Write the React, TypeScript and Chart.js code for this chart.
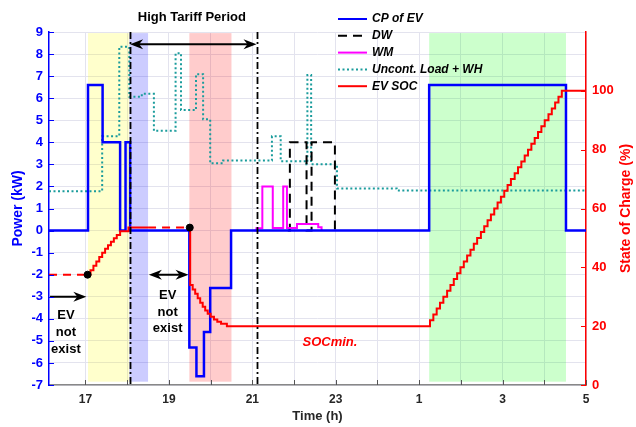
import { useEffect, useRef } from "react";
import { Chart, registerables } from "chart.js";
Chart.register(...registerables);

// ---------------- data ----------------
const xMin = 16.125;
const xMax = 29;
const xTicks = [17, 18, 19, 20, 21, 22, 23, 24, 25, 26, 27, 28, 29];
const xTickLabels = ["17", "", "19", "", "21", "", "23", "", "1", "", "3", "", "5"];
const powerMin = -7;
const powerMax = 9;
const socMin = 0;
const socMax = 120;
const socTickHidden = [120];

// CP of EV (kW), step changes
const cpTime = [16.125, 17.06, 17.41, 17.83, 17.96, 18.07, 19.49, 19.66, 19.84, 19.99, 20.49, 25.24, 28.52, 29];
const cpPower = [0, 6.6, 4.0, 0, 4.0, 0, -5.3, -6.6, -4.6, -2.6, 0, 6.6, 0, 0];

// DW (kW)
const dwTime = [21.85, 21.9, 22.3, 22.42, 22.98];
const dwPower = [0, 4.0, 0, 4.0, 0];

// WM (kW)
const wmTime = [21.05, 21.1, 21.24, 21.49, 21.74, 21.83, 22.07, 22.58, 22.66];
const wmPower = [0, 0.1, 2.0, 0.12, 2.0, 0.12, 0.3, 0.15, 0];

// Uncont. Load + WH (kW)
const ulTime = [16.125, 17.4, 17.81, 18.05, 18.35, 18.64, 19.16, 19.29, 19.65, 19.82, 19.99, 20.3, 21.47, 21.68, 22.26, 22.32, 22.41, 23.03, 24.46, 29];
const ulPower = [1.78, 4.27, 8.33, 6.06, 6.2, 4.52, 8.04, 5.46, 7.09, 5.04, 3.05, 3.17, 4.27, 3.14, 3.01, 7.05, 3.01, 1.91, 1.82, 1.82];

// EV SOC (%)
const socTime = [
  16.125, 17.05, 17.12, 17.19, 17.26, 17.33, 17.4, 17.47, 17.54, 17.61, 17.68, 17.75, 17.83, 18.03, 18.5, 19.5,
  19.51, 19.57, 19.63, 19.69, 19.75, 19.81, 19.87, 19.93, 20.0, 20.08, 20.16, 20.25, 20.39,
  25.26, 25.34, 25.42, 25.5, 25.58, 25.67, 25.75, 25.83, 25.91, 25.99, 26.07, 26.15, 26.23, 26.31, 26.39,
  26.48, 26.56, 26.64, 26.72, 26.8, 26.88, 26.96, 27.04, 27.12, 27.2, 27.29, 27.37, 27.45, 27.53, 27.61,
  27.69, 27.77, 27.85, 27.93, 28.01, 28.1, 28.18, 28.26, 28.34, 28.42, 29,
];
const socValue = [
  37.5, 37.5, 39.0, 40.5, 42.0, 43.5, 45.0, 46.3, 47.5, 48.7, 49.9, 51.0, 52.3, 53.5, 53.5, 53.5,
  34.0, 32.5, 31.0, 29.5, 28.0, 26.6, 25.3, 24.2, 23.2, 22.3, 21.5, 20.8, 20.0,
  22, 24, 26, 28, 30, 32, 34, 36, 38, 40, 42, 44, 46, 48, 50,
  52, 54, 56, 58, 60, 62, 64, 66, 68, 70, 72, 74, 76, 78, 80,
  82, 84, 86, 88, 90, 92, 94, 96, 98, 100, 100,
];
const socDashedFrom = [16.125, 18.5];
const socDashedTo = [17.05, 19.5];

// EV arrival / departure markers (SOC %)
const dotTime = [17.05, 19.5];
const dotSoc = [37.5, 53.5];

// shaded periods (time h, power kW)
const shadeStart = [17.06, 18.05, 19.49, 25.24];
const shadeEnd = [18.05, 18.5, 20.5, 28.52];
const shadeTop = 8.95;
const shadeBottom = -6.85;

// high tariff period
const tariffLines = [18.07, 21.1];
const tariffArrowY = 8.45;
const tariffLabel = "High Tariff Period";
const tariffLabelAt = [19.55, 9.68];

// "EV not exist" annotations
const evText = ["EV", "not", "exist"];
const ev1Arrow = [16.15, 17.02, -3];
const ev1TextX = 16.53;
const ev1TextY = [-3.85, -4.62, -5.38];
const ev2Arrow = [18.52, 19.47, -2];
const ev2TextX = 18.97;
const ev2TextY = [-2.94, -3.71, -4.43];
const socMinLabel = "SOCmin.";
const socMinAt = [22.86, -5.07];

const legendLabels = ["CP of EV", "DW", "WM", "Uncont. Load + WH", "EV SOC"];

// ---------------- styles ----------------
const FONT = "'Liberation Sans', Arial, Helvetica, sans-serif";
const BLUE = "#0000ff";
const RED = "#ff0000";
const MAGENTA = "#ff00ff";
const TEAL = "#1a9c9c";
const BLACK = "#000000";
const shadeColors = ["rgba(255,255,0,0.2)", "rgba(0,0,255,0.2)", "rgba(255,0,0,0.2)", "rgba(0,255,0,0.2)"];
const legendColors = [BLUE, BLACK, MAGENTA, TEAL, RED];
const legendDash = [[], [9, 6], [], [2, 2.5], []];

const pts = (ts: number[], vs: number[]) => ts.map((t, i) => ({ x: t, y: vs[i] }));

function arrowHead(ctx: CanvasRenderingContext2D, x: number, y: number, dir: number) {
  ctx.beginPath();
  ctx.moveTo(x, y);
  ctx.lineTo(x - dir * 13, y - 5);
  ctx.lineTo(x - dir * 9, y);
  ctx.lineTo(x - dir * 13, y + 5);
  ctx.closePath();
  ctx.fill();
}

export default function App() {
  const ref = useRef<HTMLCanvasElement>(null);

  useEffect(() => {
    if (!ref.current) return;
    Chart.defaults.font.family = FONT;

    const annot = {
      id: "annot",
      beforeDatasetsDraw(chart: any) {
        const { ctx, scales } = chart;
        const x = scales.x;
        const y = scales.y;
        ctx.save();
        for (let i = 0; i < shadeStart.length; i++) {
          const x0 = x.getPixelForValue(shadeStart[i]);
          const x1 = x.getPixelForValue(shadeEnd[i]);
          const y0 = y.getPixelForValue(shadeTop);
          const y1 = y.getPixelForValue(shadeBottom);
          ctx.fillStyle = shadeColors[i];
          ctx.fillRect(x0, y0, x1 - x0, y1 - y0);
        }
        ctx.restore();
      },
      afterDatasetsDraw(chart: any) {
        const { ctx, scales } = chart;
        const x = scales.x;
        const y = scales.y;
        ctx.save();
        ctx.strokeStyle = BLACK;
        ctx.lineWidth = 1.8;
        ctx.setLineDash([7, 3, 2, 3]);
        for (const t of tariffLines) {
          const px = Math.round(x.getPixelForValue(t)) + 0.5;
          ctx.beginPath();
          ctx.moveTo(px, y.getPixelForValue(powerMax));
          ctx.lineTo(px, y.getPixelForValue(powerMin));
          ctx.stroke();
        }
        ctx.setLineDash([]);
        ctx.fillStyle = BLACK;
        ctx.lineWidth = 2;
        {
          const xa = x.getPixelForValue(tariffLines[0]);
          const xb = x.getPixelForValue(tariffLines[1]);
          const ya = y.getPixelForValue(tariffArrowY);
          ctx.beginPath();
          ctx.moveTo(xa + 4, ya);
          ctx.lineTo(xb - 4, ya);
          ctx.stroke();
          arrowHead(ctx, xa, ya, -1);
          arrowHead(ctx, xb, ya, 1);
          ctx.font = `bold 13px ${FONT}`;
          ctx.textAlign = "center";
          ctx.textBaseline = "middle";
          ctx.fillText(tariffLabel, x.getPixelForValue(tariffLabelAt[0]), y.getPixelForValue(tariffLabelAt[1]));
        }
        {
          const xa = x.getPixelForValue(ev1Arrow[0]);
          const xb = x.getPixelForValue(ev1Arrow[1]);
          const ya = y.getPixelForValue(ev1Arrow[2]);
          ctx.beginPath();
          ctx.moveTo(xa, ya);
          ctx.lineTo(xb - 4, ya);
          ctx.stroke();
          arrowHead(ctx, xb, ya, 1);
        }
        {
          const xa = x.getPixelForValue(ev2Arrow[0]);
          const xb = x.getPixelForValue(ev2Arrow[1]);
          const ya = y.getPixelForValue(ev2Arrow[2]);
          ctx.beginPath();
          ctx.moveTo(xa + 4, ya);
          ctx.lineTo(xb - 4, ya);
          ctx.stroke();
          arrowHead(ctx, xa, ya, -1);
          arrowHead(ctx, xb, ya, 1);
        }
        ctx.font = `bold 13px ${FONT}`;
        ctx.textAlign = "center";
        ctx.textBaseline = "middle";
        evText.forEach((s, i) => {
          ctx.fillText(s, x.getPixelForValue(ev1TextX), y.getPixelForValue(ev1TextY[i]));
          ctx.fillText(s, x.getPixelForValue(ev2TextX), y.getPixelForValue(ev2TextY[i]));
        });
        ctx.fillStyle = RED;
        ctx.font = `italic bold 13px ${FONT}`;
        ctx.fillText(socMinLabel, x.getPixelForValue(socMinAt[0]), y.getPixelForValue(socMinAt[1]));
        ctx.restore();
      },
      afterDraw(chart: any) {
        const { ctx, chartArea, scales } = chart;
        const x = scales.x;
        const y = scales.y;
        const y2 = scales.y2;
        ctx.save();
        ctx.lineWidth = 1;
        ctx.strokeStyle = "#555";
        for (const t of xTicks) {
          const px = Math.round(x.getPixelForValue(t)) + 0.5;
          ctx.beginPath();
          ctx.moveTo(px, chartArea.bottom);
          ctx.lineTo(px, chartArea.bottom - 5);
          ctx.stroke();
        }
        ctx.strokeStyle = BLUE;
        for (let v = powerMin; v <= powerMax; v++) {
          const py = Math.round(y.getPixelForValue(v)) + 0.5;
          ctx.beginPath();
          ctx.moveTo(chartArea.left, py);
          ctx.lineTo(chartArea.left + 5, py);
          ctx.stroke();
        }
        ctx.strokeStyle = RED;
        for (let v = socMin; v <= 100; v += 20) {
          const py = Math.round(y2.getPixelForValue(v)) + 0.5;
          ctx.beginPath();
          ctx.moveTo(chartArea.right, py);
          ctx.lineTo(chartArea.right - 5, py);
          ctx.stroke();
        }
        ctx.translate(626, (chartArea.top + chartArea.bottom) / 2);
        ctx.rotate(-Math.PI / 2);
        ctx.fillStyle = RED;
        ctx.font = `bold 14px ${FONT}`;
        ctx.textAlign = "center";
        ctx.textBaseline = "middle";
        ctx.fillText("State of Charge (%)", 0, 0);
        ctx.setTransform(1, 0, 0, 1, 0, 0);
        const rowY0 = 19;
        const rowDy = 16.8;
        const lx0 = 338;
        const lx1 = 367;
        ctx.font = `italic bold 12px ${FONT}`;
        ctx.textAlign = "left";
        ctx.textBaseline = "middle";
        legendLabels.forEach((lab, i) => {
          const ly = rowY0 + i * rowDy;
          ctx.strokeStyle = legendColors[i];
          ctx.lineWidth = 2;
          ctx.setLineDash(legendDash[i]);
          ctx.beginPath();
          ctx.moveTo(lx0, ly);
          ctx.lineTo(lx1, ly);
          ctx.stroke();
          ctx.setLineDash([]);
          ctx.fillStyle = BLACK;
          ctx.fillText(lab, 372, ly);
        });
        ctx.restore();
      },
    };

    const stepLine = (label: string, data: any[], color: string, order: number, extra: any = {}) => ({
      type: "line",
      label,
      data,
      order,
      borderColor: color,
      backgroundColor: color,
      borderWidth: 2,
      pointRadius: 0,
      stepped: true,
      fill: false,
      tension: 0,
      borderJoinStyle: "miter",
      borderCapStyle: "butt",
      yAxisID: "y",
      ...extra,
    });

    const chart = new Chart(ref.current, {
      type: "line",
      data: {
        datasets: [
          {
            type: "scatter",
            label: "dots",
            order: 0,
            data: pts(dotTime, dotSoc),
            yAxisID: "y2",
            pointRadius: 3.5,
            pointBackgroundColor: BLACK,
            pointBorderColor: BLACK,
            showLine: false,
          } as any,
          stepLine("EV SOC", pts(socTime, socValue), RED, 1, {
            yAxisID: "y2",
            segment: {
              borderDash: (c: any) => {
                for (let i = 0; i < socDashedFrom.length; i++) {
                  if (c.p0.parsed.x >= socDashedFrom[i] && c.p1.parsed.x <= socDashedTo[i]) return [8, 6];
                }
                return undefined;
              },
            },
          }),
          stepLine("CP of EV", pts(cpTime, cpPower), BLUE, 2, { borderWidth: 2.5 }),
          stepLine("WM", pts(wmTime, wmPower), MAGENTA, 3),
          stepLine("DW", pts(dwTime, dwPower), BLACK, 4, { borderDash: [9, 6] }),
          stepLine("Uncont. Load + WH", pts(ulTime, ulPower), TEAL, 5, { borderDash: [2, 2.5] }),
        ] as any,
      },
      options: {
        responsive: false,
        animation: false,
        events: [],
        layout: { padding: { top: 32, left: 0, right: 0, bottom: 0 } },
        plugins: { legend: { display: false }, tooltip: { enabled: false } },
        scales: {
          x: {
            type: "linear",
            min: xMin,
            max: xMax,
            afterBuildTicks: (s: any) => {
              s.ticks = xTicks.map((v) => ({ value: v }));
            },
            afterFit: (s: any) => {
              s.height = 42;
            },
            ticks: {
              autoSkip: false,
              maxRotation: 0,
              padding: 7,
              color: "#262626",
              font: { size: 12, weight: "bold", family: FONT },
              callback: (_v: any, i: number) => xTickLabels[i],
            },
            grid: { color: "#e3e3ee", drawTicks: false },
            border: { color: "#888888", width: 1.5 },
            title: {
              display: true,
              text: "Time (h)",
              color: "#262626",
              font: { size: 13, weight: "bold", family: FONT },
              padding: { top: 0, bottom: 3 },
            },
          },
          y: {
            type: "linear",
            position: "left",
            min: powerMin,
            max: powerMax,
            afterFit: (s: any) => {
              s.width = 49;
            },
            ticks: {
              stepSize: 1,
              padding: 6,
              color: BLUE,
              font: { size: 13, weight: "bold", family: FONT },
            },
            grid: { color: "#e3e3ee", drawTicks: false },
            border: { color: BLUE, width: 1.5 },
            title: {
              display: true,
              text: "Power (kW)",
              color: BLUE,
              font: { size: 14, weight: "bold", family: FONT },
              padding: { top: 10, bottom: 0 },
            },
          },
          y2: {
            type: "linear",
            position: "right",
            min: socMin,
            max: socMax,
            afterFit: (s: any) => {
              s.width = 50;
            },
            ticks: {
              stepSize: 20,
              padding: 6,
              color: RED,
              font: { size: 13, weight: "bold", family: FONT },
              callback: (v: any) => (socTickHidden.includes(v) ? "" : String(v)),
            },
            grid: { drawOnChartArea: false, drawTicks: false },
            border: { color: RED, width: 1.5 },
          },
        },
      } as any,
      plugins: [annot],
    });
    return () => chart.destroy();
  }, []);

  return (
    <div style={{ position: "absolute", left: 0, top: 0, width: 636, height: 427 }}>
      <canvas ref={ref} width={636} height={427} style={{ display: "block" }} />
    </div>
  );
}
